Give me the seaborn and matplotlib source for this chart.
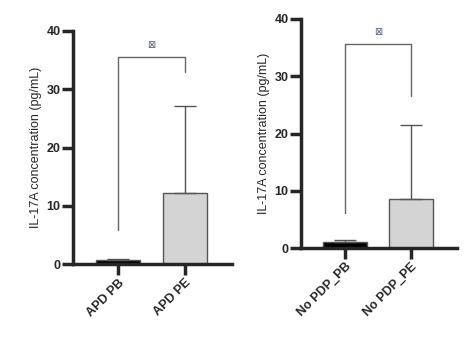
import numpy as np
import pandas as pd
import seaborn as sns
import matplotlib.pyplot as plt

# Datos
grupos_izq = ["APD PB", "APD PE"]
media_izq = [0.7, 12.2]
sd_izq = [0.25, 15.0]

grupos_der = ["No PDP_PB", "No PDP_PE"]
media_der = [1.0, 8.5]
sd_der = [0.4, 12.9]

# Corchete de significancia: altura, pie izquierdo, pie derecho
corchete_izq = [35.5, 5.8, 33.0]
corchete_der = [35.6, 6.1, 26.5]
marca = "⊠"

colores = ["black", "#d4d4d4"]

sns.set_style("ticks")
plt.rcParams["font.family"] = ["Liberation Sans", "DejaVu Sans"]

fig = plt.figure(figsize=(4.77, 3.56), dpi=100)
ax1 = fig.add_axes([0.153, 0.258, 0.333, 0.655])
ax2 = fig.add_axes([0.631, 0.303, 0.327, 0.644])


def dibujar(ax, grupos, media, sd, corchete):
    df = pd.DataFrame({"grupo": grupos, "valor": media})
    sns.barplot(data=df, x="grupo", y="valor", hue="grupo", palette=colores,
                errorbar=None, width=0.66, edgecolor="#555555", linewidth=1,
                legend=False, ax=ax)
    x = np.arange(len(grupos))
    ax.errorbar(x, media, yerr=[np.zeros(len(sd)), sd], fmt="none",
                ecolor="#555555", elinewidth=1, capsize=8, capthick=1)
    alto, pie1, pie2 = corchete
    ax.plot([0, 0, 1, 1], [pie1, alto, alto, pie2], color="#666666", lw=1)
    ax.text(0.5, alto + 1.3, marca, ha="center", va="bottom", fontsize=7,
            color="#4a5a80", family=["DejaVu Sans"])
    ax.set_ylim(0, 40)
    ax.set_xlim(-0.67, 1.7)
    ax.set_yticks([0, 10, 20, 30, 40])
    ax.set_xlabel("")
    ax.set_ylabel("IL-17A concentration (pg/mL)", fontsize=9, labelpad=3)
    sns.despine(ax=ax)
    for s in ["left", "bottom"]:
        ax.spines[s].set_linewidth(2.5)
    ax.tick_params(axis="both", width=2.5, length=8, labelsize=9, pad=1)
    for t in ax.get_yticklabels():
        t.set_fontweight("bold")
    for t in ax.get_xticklabels():
        t.set_fontweight("bold")
        t.set_rotation(45)
        t.set_ha("right")
        t.set_rotation_mode("anchor")


dibujar(ax1, grupos_izq, media_izq, sd_izq, corchete_izq)
dibujar(ax2, grupos_der, media_der, sd_der, corchete_der)

fig.savefig("out.png", dpi=100)
